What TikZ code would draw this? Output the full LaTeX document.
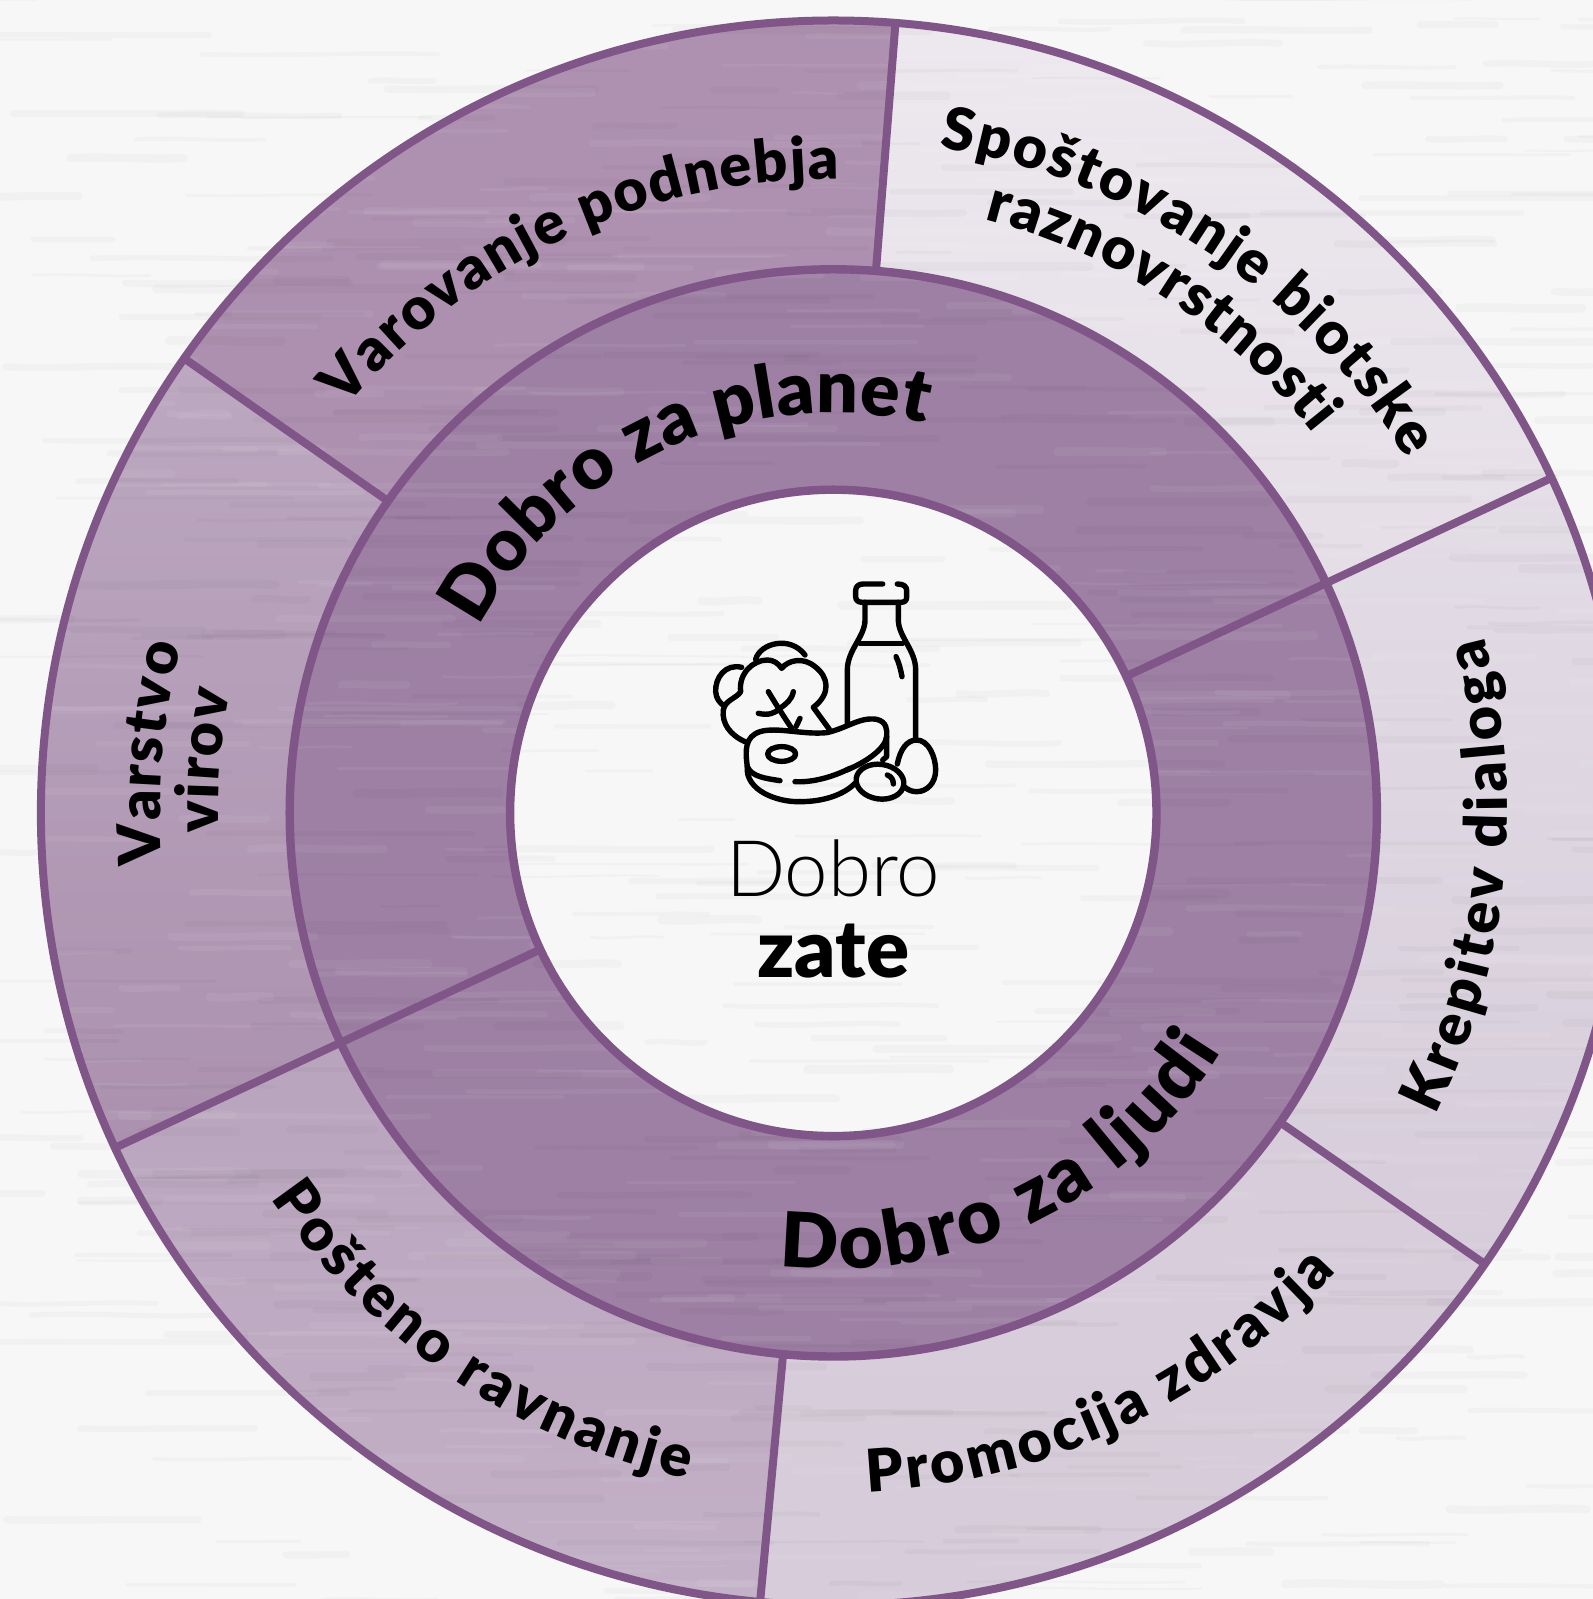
\documentclass[tikz,border=0pt]{standalone}
\usepackage{fontspec}
\usetikzlibrary{decorations.text}
\setmainfont{Lato}
\newfontfamily\latok[UprightFont=* Black]{Lato}
\newfontfamily\latol[UprightFont=* Light]{Lato}
\newcommand\fring{\latok\fontsize{36.5}{36.5}\selectfont}
\newcommand\fringb{\latok\fontsize{38}{38}\selectfont}
\newcommand\fout{\latok\fontsize{29.5}{29.5}\selectfont}
\definecolor{bord}{HTML}{7F5687}
\definecolor{pageb}{HTML}{F7F7F7}
\definecolor{ringc}{HTML}{9E80A4}
\newcommand\sectorfill[6]{% a1 a2 r1 r2 top bottom
  \definecolor{sectop}{HTML}{#5}\definecolor{secbot}{HTML}{#6}
  \path[top color=sectop,bottom color=secbot]
    (#1:#4) arc[start angle=#1,end angle=#2,radius=#4]
    -- (#2:#3) arc[start angle=#2,end angle=#1,radius=#3] -- cycle;}
\newcommand\arctext[5]{% centre-angle half-span radius dir(+1 ccw/-1 cw) text
  \pgfmathsetmacro\aone{#1-(#4)*(#2)}
  \pgfmathsetmacro\atwo{#1+(#4)*(#2)}
  \path[decorate,decoration={text along path,text align={fit to path},text={#5}}]
    (\aone:#3) arc[start angle=\aone,end angle=\atwo,radius=#3];}
\tikzset{ringline/.style={draw=bord,line width=4pt},
  iconline/.style={draw=black,line width=2.7pt,line cap=round,line join=round}}
\begin{document}
\begin{tikzpicture}[x=.5pt,y=.5pt]
\useasboundingbox (-416.65pt,-393.05pt) rectangle (379.85pt,406.45pt);
\clip (-416.65pt,-393.05pt) rectangle (379.85pt,406.45pt);
\fill[pageb] (-416.65pt,-393.05pt) rectangle (379.85pt,406.45pt);
% outer sectors
\sectorfill{85.5}{145}{271.8pt}{396.2pt}{AE91B0}{AD90AF}
\sectorfill{25}{85.5}{271.8pt}{396.2pt}{EDE8EE}{E5DEE7}
\sectorfill{-34.7}{25}{271.8pt}{396.2pt}{E3DDE6}{D6CCDA}
\sectorfill{-95.3}{-34.7}{271.8pt}{396.2pt}{D8CEDB}{D7CCDA}
\sectorfill{205}{264.7}{271.8pt}{396.2pt}{B9A4BD}{C3B1C7}
\sectorfill{145}{205}{271.8pt}{396.2pt}{BCA8C0}{AB91AE}
% ring
\fill[ringc,even odd rule] (0,0) circle[radius=271.8pt] (0,0) circle[radius=161.6pt];
% paper texture
\pgfmathsetseed{11}
\foreach \i in {1,...,900}{
  \pgfmathsetmacro\sx{-440+rnd*820}
  \pgfmathsetmacro\sy{-400+rnd*810}
  \pgfmathsetmacro\sl{25+rnd*110}
  \pgfmathsetmacro\sa{(rnd-.5)*3}
  \pgfmathsetmacro\sw{1+rnd*3.5}
  \ifodd\i
    \draw[line width=\sw pt,black,opacity=.022,line cap=round]
      (\sx pt,\sy pt) .. controls (\sx pt+\sl pt/3,\sy pt+\sa pt) and (\sx pt+\sl pt*2/3,\sy pt-\sa pt) .. (\sx pt+\sl pt,\sy pt);
  \else
    \draw[line width=\sw pt,white,opacity=.06,line cap=round]
      (\sx pt,\sy pt) .. controls (\sx pt+\sl pt/3,\sy pt+\sa pt) and (\sx pt+\sl pt*2/3,\sy pt-\sa pt) .. (\sx pt+\sl pt,\sy pt);
  \fi
}
% borders
\coordinate (c) at (0,0);
\draw[ringline] (c) circle[radius=396.2pt];
\draw[ringline,line width=4.2pt] (c) circle[radius=271.8pt];
\draw[ringline,line width=4.2pt] (c) circle[radius=161.6pt];
\draw[ringline] (85.5:271.8pt) -- (85.5:396.2pt);
\draw[ringline] (25:161.6pt) -- (25:396.2pt);
\draw[ringline] (-34.7:271.8pt) -- (-34.7:396.2pt);
\draw[ringline] (264.7:271.8pt) -- (264.7:396.2pt);
\draw[ringline] (205:161.6pt) -- (205:396.2pt);
\draw[ringline] (145:271.8pt) -- (145:396.2pt);
% ring labels
\arctext{114.5}{37.8}{200pt}{-1}{|\fring|Dobro za planet}
\arctext{-64.2}{32.6}{228pt}{1}{|\fringb|Dobro za ljudi}
% outer labels
\arctext{114.9}{25.4}{317pt}{-1}{|\fout|Varovanje podnebja}
\arctext{56.3}{24.6}{337pt}{-1}{|\fout|Spoštovanje biotske}
\arctext{57}{18.7}{306pt}{-1}{|\fout|raznovrstnosti}
\arctext{-5.8}{20.9}{337pt}{1}{|\fout|Krepitev dialoga}
\arctext{-64.75}{22.4}{340pt}{1}{|\fout|Promocija zdravja}
\arctext{236}{21.6}{341pt}{1}{|\fout|Pošteno ravnanje}
\arctext{175}{9.4}{336.5pt}{-1}{|\fout|Varstvo}
\arctext{175.2}{6.6}{307.5pt}{-1}{|\fout|virov}
% centre text
\node[font=\latol\fontsize{39}{39}\selectfont,inner sep=0pt] (dobro) at (0pt,-27.5pt) {Dobro};
\node[font=\latok\fontsize{40}{40}\selectfont,inner sep=0pt] (zate) at (0pt,-69pt) {zate};
% icon
\begin{scope}[xshift=-71.65pt,yshift=126.45pt,x=.16667pt,y=-.16667pt]
  % bottle
  \draw[iconline] (578,72) -- (520,72) .. controls (505,72) and (497,80) .. (497,92) -- (497,110) .. controls (497,122) and (505,127) .. (518,127) -- (632,127) .. controls (645,127) and (650,122) .. (650,110) -- (650,92) .. controls (650,80) and (642,72) .. (622,72);
  \draw[iconline] (525,127) -- (525,180) .. controls (525,230) and (472,270) .. (472,330) -- (472,490);
  \draw[iconline] (625,127) -- (625,180) .. controls (625,230) and (677,270) .. (677,330) -- (677,535);
  \draw[iconline] (510,250) -- (638,250);
  \draw[iconline] (618,290) .. controls (628,310) and (632,330) .. (636,350);
  % leaves
  \draw[iconline] (197,298) .. controls (210,250) and (300,225) .. (345,285);
  \draw[iconline] (155,322) .. controls (105,310) and (75,355) .. (77,395) .. controls (78,415) and (90,430) .. (103,438);
  \draw[iconline] (165,545) .. controls (120,525) and (95,490) .. (100,450) .. controls (105,420) and (140,415) .. (152,395) .. controls (145,340) and (190,300) .. (232,300) .. controls (250,300) and (265,310) .. (275,325) .. controls (295,300) and (340,290) .. (375,320) .. controls (415,350) and (425,400) .. (370,442) -- (418,508);
  \draw[iconline] (235,395) .. controls (262,440) and (285,475) .. (305,505);
  \draw[iconline] (205,460) .. controls (235,467) and (255,460) .. (270,445);
  \draw[iconline] (310,395) .. controls (305,420) and (290,430) .. (270,445);
  \draw[iconline] (330,475) -- (318,500);
  % steak
  \draw[iconline] (172,620) .. controls (165,570) and (165,530) .. (210,515) .. controls (260,500) and (340,525) .. (410,518) .. controls (470,505) and (510,470) .. (560,478) .. controls (590,485) and (592,510) .. (590,530) .. controls (585,570) and (520,610) .. (470,630);
  \draw[iconline] (590,530) -- (590,590) -- (578,600);
  \draw[iconline] (172,620) .. controls (185,650) and (225,655) .. (270,662);
  \draw[iconline] (315,665) .. controls (370,668) and (430,650) .. (480,625);
  \draw[iconline] (172,620) .. controls (165,690) and (260,727) .. (330,725) .. controls (400,725) and (460,705) .. (495,670);
  \draw[iconline] (275,582) circle[x radius=42,y radius=22];
  % olive and egg
  \draw[iconline,rotate around={-8:(570,665)}] (570,665) circle[x radius=72,y radius=52];
  \draw[iconline] (592,645) .. controls (605,650) and (610,660) .. (610,672);
  \draw[iconline] (622,612) .. controls (630,570) and (650,540) .. (680,540) .. controls (715,540) and (737,590) .. (737,630) .. controls (737,670) and (710,695) .. (680,695) .. controls (665,695) and (655,690) .. (645,682);
\end{scope}
\end{tikzpicture}
\end{document}
